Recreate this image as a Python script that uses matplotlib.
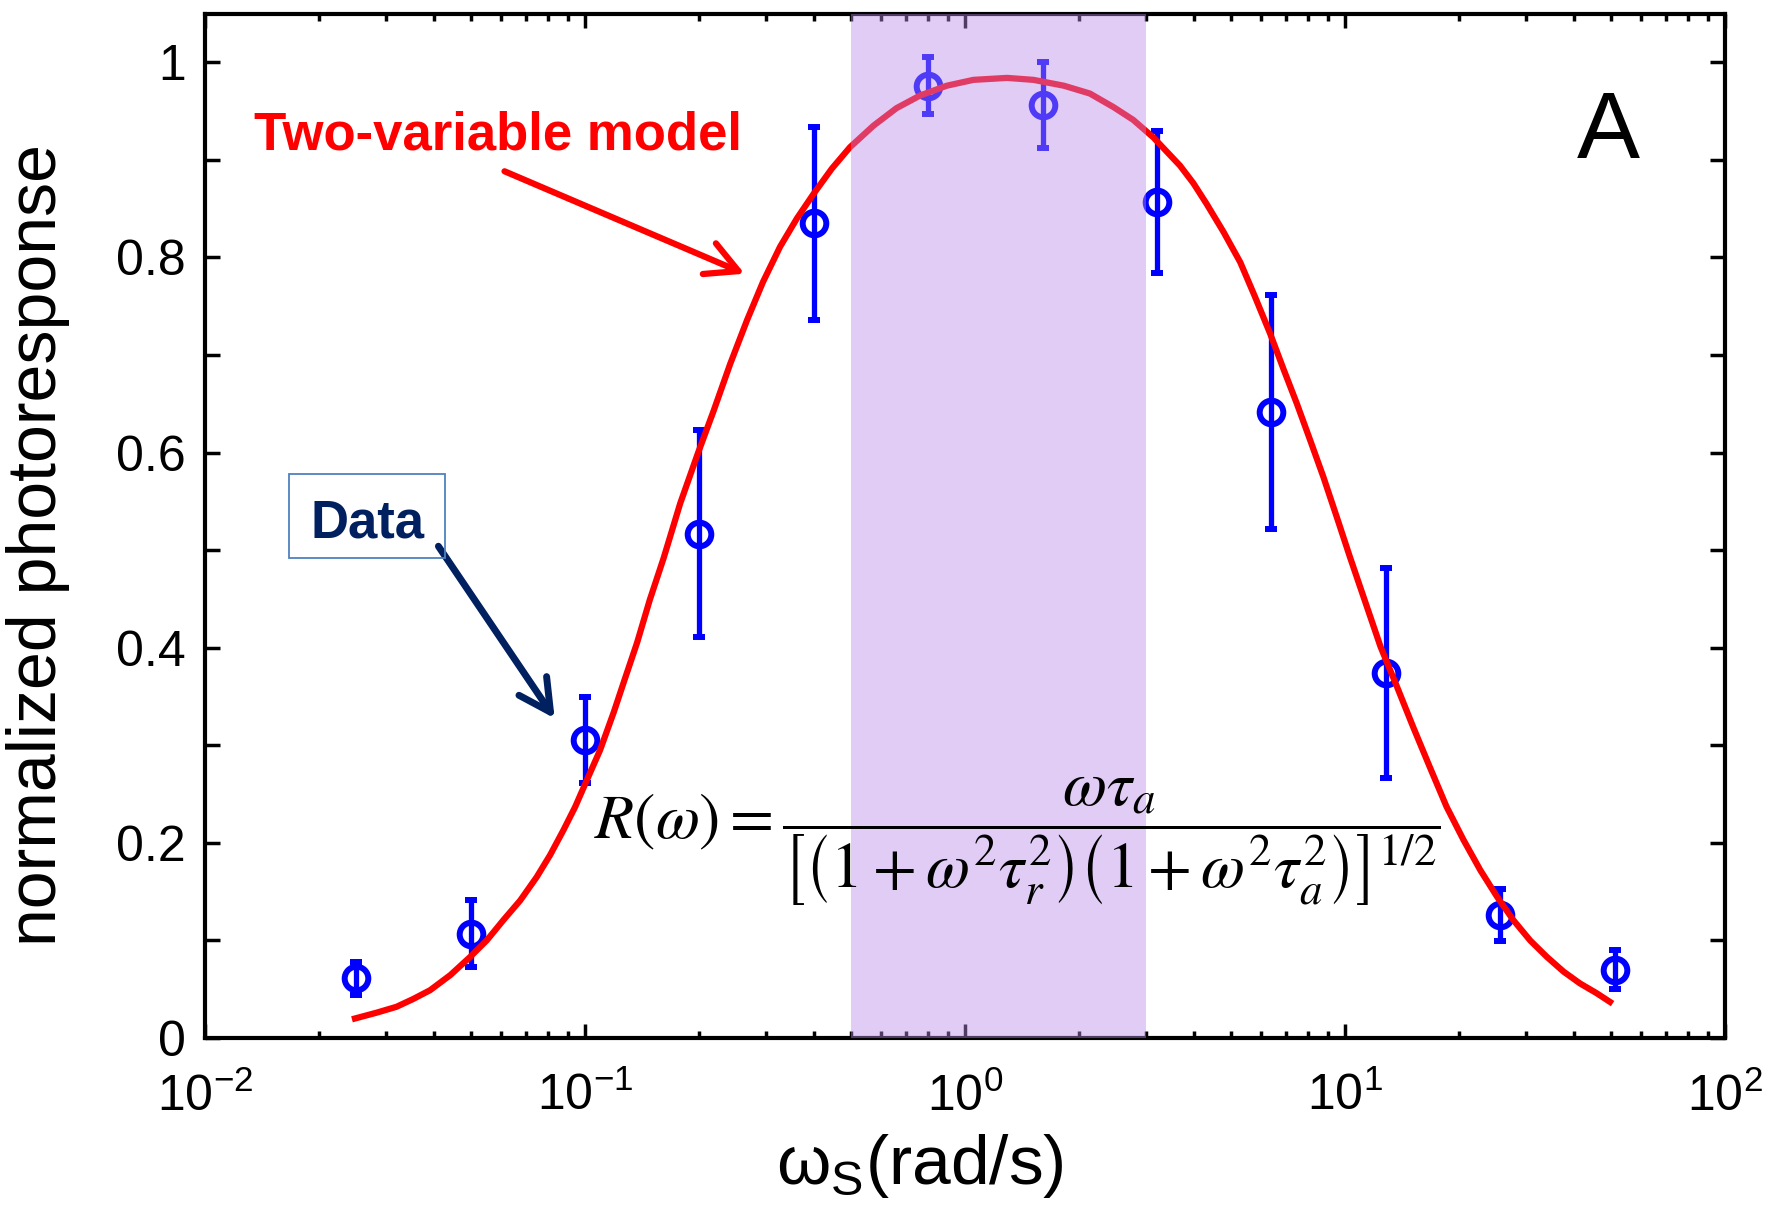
import numpy as np
import matplotlib
matplotlib.use('Agg')
import matplotlib.pyplot as plt
from matplotlib.ticker import MultipleLocator, FuncFormatter, LogLocator
from matplotlib.patches import Rectangle

# measured photoresponse (normalized) vs stimulus frequency
freq = [0.025, 0.05, 0.1, 0.2, 0.4, 0.8, 1.6, 3.2, 6.4, 12.8, 25.6, 51.2]
response = [0.061, 0.107, 0.305, 0.517, 0.835, 0.976, 0.956, 0.857, 0.642, 0.374, 0.126, 0.070]
response_err = [0.017, 0.034, 0.044, 0.106, 0.099, 0.029, 0.044, 0.073, 0.120, 0.108, 0.027, 0.020]

# two-variable model curve
fit_freq = [0.0248, 0.0283, 0.0319, 0.0353, 0.0391, 0.0442, 0.0498, 0.0551, 0.061, 0.0675,
            0.0746, 0.0809, 0.0877, 0.0942, 0.101, 0.1095, 0.119, 0.127, 0.137, 0.148,
            0.161, 0.178, 0.198, 0.218, 0.241, 0.267, 0.294, 0.326, 0.361, 0.399,
            0.446, 0.498, 0.574, 0.660, 0.762, 0.895, 1.052, 1.29, 1.513, 1.82,
            2.13, 2.46, 2.77, 3.13, 3.68, 3.99, 4.32, 4.79, 5.30, 5.79, 6.35,
            6.88, 7.47, 8.09, 8.77, 9.51, 10.3, 12.4, 13.7, 15.1, 16.7,
            18.5, 20.5, 22.7, 25.1, 27.7, 30.7, 34.0, 37.6, 41.5, 45.9, 49.8]
fit_resp = [0.020, 0.026, 0.032, 0.040, 0.049, 0.0645, 0.083, 0.100, 0.121, 0.141,
            0.165, 0.1875, 0.213, 0.237, 0.264, 0.295, 0.334, 0.367, 0.405, 0.449,
            0.492, 0.548, 0.599, 0.643, 0.691, 0.736, 0.775, 0.811, 0.840, 0.865,
            0.891, 0.913, 0.935, 0.953, 0.966, 0.976, 0.982, 0.984, 0.982, 0.976,
            0.968, 0.954, 0.941, 0.923, 0.894, 0.876, 0.855, 0.826, 0.795, 0.760, 0.722,
            0.686, 0.650, 0.613, 0.575, 0.534, 0.493, 0.401, 0.360, 0.319, 0.278,
            0.237, 0.203, 0.172, 0.145, 0.121, 0.100, 0.083, 0.068, 0.056, 0.046, 0.037]

band = (0.5, 3.0)

plt.rcParams['font.family'] = ['Liberation Sans', 'DejaVu Sans']

fig = plt.figure(figsize=(17.68, 12.06), dpi=100)
ax = fig.add_axes([0.116, 0.1393, 0.8597, 0.8495])

ax.errorbar(freq, response, yerr=response_err, fmt='o', color='blue', mfc='none',
            ms=17, mew=4.3, elinewidth=3.8, capsize=4.5, capthick=3, zorder=3)
ax.plot(fit_freq, fit_resp, color='red', lw=4.5, zorder=3.5, solid_joinstyle='round')
ax.axvspan(*band, color='#B88AE8', alpha=0.435, lw=0, zorder=4)

ax.set_xscale('log')
ax.set_xlim(1e-2, 1e2)
ax.set_ylim(0, 1.05)
ax.xaxis.set_major_locator(LogLocator(base=10, numticks=10))
ax.xaxis.set_minor_locator(LogLocator(base=10, subs=np.arange(2, 10), numticks=20))
ax.yaxis.set_major_locator(MultipleLocator(0.2))
ax.yaxis.set_minor_locator(MultipleLocator(0.1))
ax.yaxis.set_major_formatter(FuncFormatter(lambda v, p: '%g' % round(v, 2)))

for s in ax.spines.values():
    s.set_linewidth(3)
ax.tick_params(which='both', direction='in', top=True, right=True, width=2.5)
ax.tick_params(axis='x', which='major', length=10, labelsize=36, pad=25)
ax.tick_params(axis='x', which='minor', length=5)
ax.tick_params(axis='y', which='both', length=11, labelsize=36, pad=14)

ax.set_xlabel('ω$_\\mathdefault{S}$(rad/s)', fontsize=50)
ax.xaxis.set_label_coords(0.47, -0.092)
ax.set_ylabel('normalized photoresponse', fontsize=49)
ax.yaxis.set_label_coords(-0.089, 0.481)

ax.text(0.923, 0.859, 'A', transform=ax.transAxes, fontsize=68,
        ha='center', va='baseline')

ax.text(0.032, 0.867, 'Two-variable model', transform=ax.transAxes, fontsize=38,
        fontweight='bold', color='red', ha='left', va='baseline')
ax.annotate('', xy=(0.355, 0.746), xytext=(0.197, 0.846), xycoords='axes fraction',
            arrowprops=dict(arrowstyle='->,head_length=1.14,head_width=0.6',
                            mutation_scale=20, color='red', lw=4.5,
                            shrinkA=0, shrinkB=0))

ax.add_patch(Rectangle((0.0553, 0.4685), 0.1024, 0.082, transform=ax.transAxes,
                       fill=False, ec='#4F81BD', lw=1.3, zorder=5))
ax.text(0.1067, 0.489, 'Data', transform=ax.transAxes, fontsize=38,
        fontweight='bold', color='#002060', ha='center', va='baseline')
ax.annotate('', xy=(0.230, 0.312), xytext=(0.1535, 0.480), xycoords='axes fraction',
            arrowprops=dict(arrowstyle='->,head_length=1.14,head_width=0.6',
                            mutation_scale=20, color='#002060', lw=5,
                            shrinkA=0, shrinkB=0))

formula = (r'$R(\omega) = \dfrac{\omega\tau_a}'
           r'{\left[\left(1+\omega^2\tau_r^2\right)\left(1+\omega^2\tau_a^2\right)\right]^{1/2}}$')
ax.text(0.5345, 0.192, formula, transform=ax.transAxes, fontsize=46,
        math_fontfamily='stix', ha='center', va='center', zorder=6)

fig.savefig('out.png', dpi=100)
